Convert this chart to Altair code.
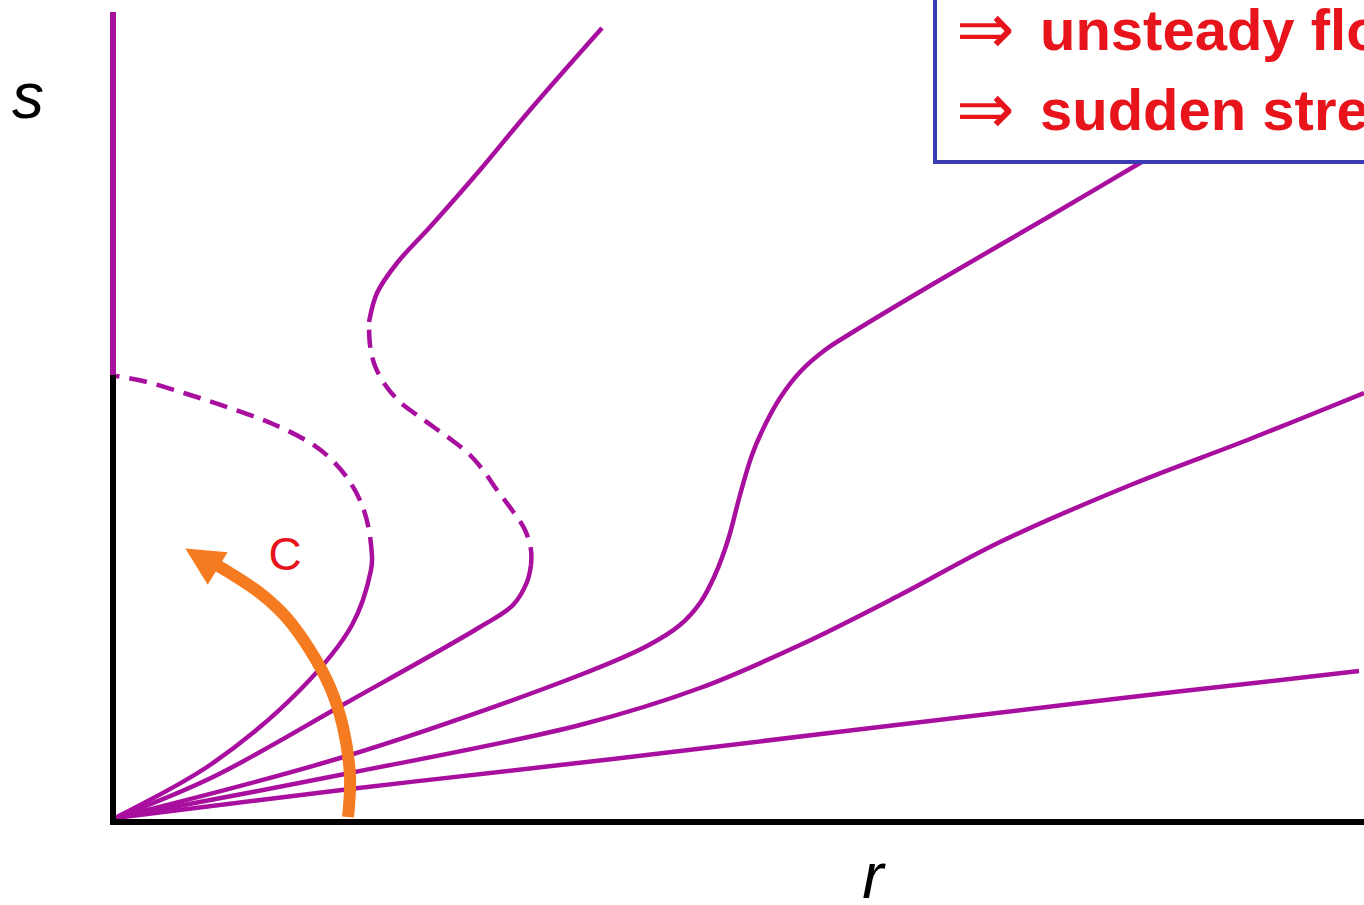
import altair as alt
import pandas as pd

# ---- solution curves s(r), arbitrary units (r right, s up) ----
curve_a_r = [2, 237, 500, 967, 1246]
curve_a_s = [4, 33, 63, 119, 151]

curve_b_r = [2, 237, 467, 587, 687, 787, 887, 1020, 1137, 1251]
curve_b_s = [4, 49, 97, 134, 177, 227, 280, 338, 383, 429]

curve_c_r = [2, 237, 467, 534, 567, 587, 602, 615, 627, 639, 652,
             667, 687, 712, 740, 820, 887, 937, 1027, 1087]
curve_c_s = [4, 67, 147, 176, 197, 219, 247, 282, 327, 367, 397,
             424, 450, 472, 490, 538, 577, 606, 659, 694]

# curve D: stable lower branch, unstable (dashed) middle branch, upper branch
curve_d_low_r = [2, 100, 233, 367, 400, 414, 418]
curve_d_low_s = [4, 45, 119, 195, 217, 240, 257]
curve_d_mid_r = [418, 418, 412, 399, 384, 370, 357, 340, 322, 304, 287, 273, 262, 257, 256]
curve_d_mid_s = [257, 272, 292, 312, 332, 352, 367, 381, 394, 407, 420, 436, 456, 477, 500]
curve_d_top_r = [256, 264, 284, 317, 367, 417, 489]
curve_d_top_s = [500, 529, 559, 595, 652, 712, 794]

# curve E: lower branch and unstable (dashed) branch back to the s axis
curve_e_low_r = [2, 97, 187, 239, 258, 259]
curve_e_low_s = [4, 57, 132, 197, 252, 267]
curve_e_mid_r = [259, 256, 249, 237, 221, 199, 160, 117, 74, 30, 3]
curve_e_mid_s = [267, 292, 317, 340, 360, 378, 398, 414, 428, 441, 446]

# direction of increasing C
arrow_r = [235, 237, 230, 217, 197, 173, 147, 117, 100]
arrow_s = [5, 45, 95, 135, 172, 205, 229, 249, 259]
arrow_head_r = [88.5]
arrow_head_s = [263.5]

# axes: s axis is black up to where the dashed branch meets it, magenta above
s_axis_split = 447
s_axis_top = 810
r_axis_end = 1260

# text box in the upper right
box_r = [822, 1320]
box_s = [660, 900]
box_lines = ["unsteady flow", "sudden stress"]
box_line_s = [772, 692]
implies_s = [769, 689]

MAGENTA = "#A80F9E"
ORANGE = "#F47B20"
RED = "#E8141C"
BLUE = "#3B3BB3"

xs = alt.Scale(domain=[0, 1251], nice=False, zero=False)
ys = alt.Scale(domain=[0, 822], nice=False, zero=False)


def rows(name, style, rs, ss):
    return [{"seg": name, "style": style, "i": i, "r": r, "s": s}
            for i, (r, s) in enumerate(zip(rs, ss))]


curve_rows = (
    rows("a", "solid", curve_a_r, curve_a_s)
    + rows("b", "solid", curve_b_r, curve_b_s)
    + rows("c", "solid", curve_c_r, curve_c_s)
    + rows("d_low", "solid", curve_d_low_r, curve_d_low_s)
    + rows("d_mid", "dashed", curve_d_mid_r, curve_d_mid_s)
    + rows("d_top", "solid", curve_d_top_r, curve_d_top_s)
    + rows("e_low", "solid", curve_e_low_r, curve_e_low_s)
    + rows("e_mid", "dashed", curve_e_mid_r, curve_e_mid_s)
)
curves = pd.DataFrame(curve_rows)

X = alt.X("r:Q", scale=xs, axis=None)
Y = alt.Y("s:Q", scale=ys, axis=None)

solid = alt.Chart(curves).transform_filter(alt.datum.style == "solid").mark_line(
    interpolate="catmull-rom", strokeWidth=4.5, color=MAGENTA, strokeCap="butt"
).encode(x=X, y=Y, detail="seg:N", order="i:Q")

dashed = alt.Chart(curves).transform_filter(alt.datum.style == "dashed").mark_line(
    interpolate="catmull-rom", strokeWidth=4.5, color=MAGENTA, strokeDash=[18, 10]
).encode(x=X, y=Y, detail="seg:N", order="i:Q")

axes_df = pd.DataFrame([
    {"r": 0, "r2": 0, "s": s_axis_split, "s2": s_axis_top, "c": MAGENTA},
    {"r": 0, "r2": 0, "s": -3, "s2": s_axis_split, "c": "#000000"},
    {"r": -3, "r2": r_axis_end, "s": 0, "s2": 0, "c": "#000000"},
])
axes = alt.Chart(axes_df).mark_rule(strokeWidth=6).encode(
    x=X, x2="r2:Q", y=Y, y2="s2:Q", color=alt.Color("c:N", scale=None)
)

arrow_df = pd.DataFrame({"r": arrow_r, "s": arrow_s, "i": list(range(len(arrow_r)))})
arrow = alt.Chart(arrow_df).mark_line(
    interpolate="catmull-rom", strokeWidth=12, color=ORANGE, strokeCap="butt"
).encode(x=X, y=Y, order="i:Q")

head_df = pd.DataFrame({"r": arrow_head_r, "s": arrow_head_s})
head = alt.Chart(head_df).mark_point(
    shape="M0,-1L1,1L-1,1Z", size=1444, angle=301.6, filled=True,
    fill=ORANGE, opacity=1, strokeWidth=0
).encode(x=X, y=Y)

box_df = pd.DataFrame({"r": [box_r[0]], "r2": [box_r[1]], "s": [box_s[0]], "s2": [box_s[1]]})
box = alt.Chart(box_df).mark_rect(fill="white", stroke=BLUE, strokeWidth=4).encode(
    x=X, x2="r2:Q", y=Y, y2="s2:Q"
)

lines_df = pd.DataFrame({"txt": box_lines, "s": box_line_s, "r": [927, 927]})
box_text = alt.Chart(lines_df).mark_text(
    align="left", baseline="alphabetic", font="Liberation Sans", fontWeight="bold",
    fontSize=58, color=RED
).encode(x=X, y=Y, text="txt:N")

implies_df = pd.DataFrame({"txt": ["⇒", "⇒"], "s": implies_s, "r": [843, 843]})
implies = alt.Chart(implies_df).mark_text(
    align="left", baseline="alphabetic", font="DejaVu Sans", fontSize=70, color=RED
).encode(x=X, y=Y, text="txt:N")

c_df = pd.DataFrame({"txt": ["C"], "r": [172], "s": [252]})
c_label = alt.Chart(c_df).mark_text(
    align="center", baseline="alphabetic", font="Liberation Sans", fontSize=46, color=RED
).encode(x=X, y=Y, text="txt:N")

axis_labels_df = pd.DataFrame({"txt": ["s", "r"], "r": [-85, 760], "s": [704, -76]})
axis_labels = alt.Chart(axis_labels_df).mark_text(
    align="center", baseline="alphabetic", font="Liberation Sans", fontStyle="italic",
    fontSize=64, color="#000000"
).encode(x=X, y=Y, text="txt:N")

chart = alt.layer(
    solid, dashed, axes, arrow, head, box, box_text, implies, c_label, axis_labels
).properties(
    width=1251, height=822,
    autosize=alt.AutoSizeParams(type="none"),
    padding={"left": 113, "top": 0, "right": 0, "bottom": 78},
).configure_view(stroke=None)

chart.save("out.html", embed_options={"renderer": "svg", "actions": False})
